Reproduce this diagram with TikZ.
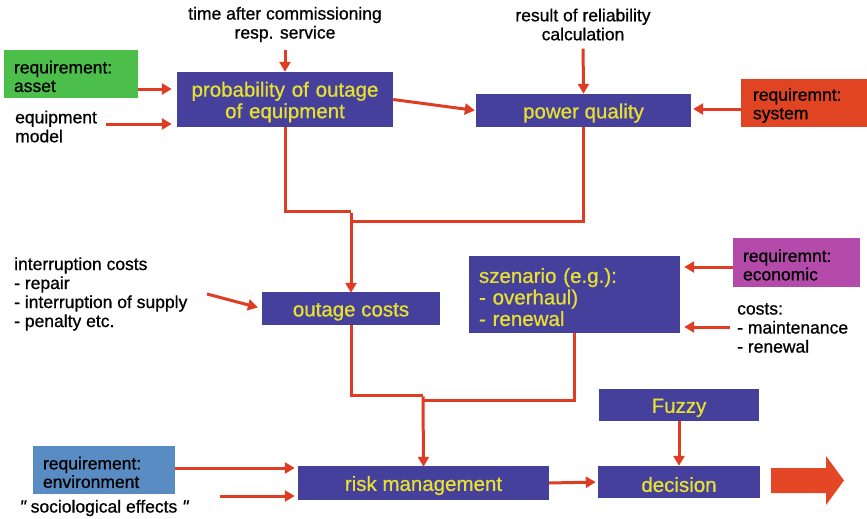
\documentclass[tikz,border=0pt]{standalone}
\usepackage{fontspec}
\setmainfont{Liberation Sans}
\newfontfamily\medium{Liberation Sans}[FakeBold=0.8]
\usetikzlibrary{arrows.meta,calc}

\definecolor{boxblue}{RGB}{68,64,156}
\definecolor{boxtext}{RGB}{232,224,48}
\definecolor{flow}{RGB}{224,60,36}
\definecolor{reqgreen}{RGB}{76,191,74}
\definecolor{reqred}{RGB}{224,68,34}
\definecolor{reqpurple}{RGB}{180,74,170}
\definecolor{reqblue}{RGB}{90,140,196}
\definecolor{bigarrow}{RGB}{227,71,38}

\tikzset{
  stage/.style={fill=boxblue, text=boxtext, inner sep=0pt, align=center,
    font=\medium\fontsize{20.5}{21.5}\selectfont,
    execute at begin node={\rule{0pt}{20pt}}},
  reqbox/.style={inner xsep=10pt, inner ysep=0pt, align=left, text=black,
    font=\medium\fontsize{17.5}{18.5}\selectfont,
    execute at begin node={\rule{0pt}{17.5pt}}},
  label/.style={inner sep=0pt, text=black, font=\medium\fontsize{17.5}{19}\selectfont},
  feed/.style={draw=flow, line width=3pt, -{Triangle[length=10pt,width=11pt]}},
  wire/.style={draw=flow, line width=3pt},
}

\begin{document}
\begin{tikzpicture}[x=1pt,y=-1pt]
\useasboundingbox (0,0) rectangle (867,519);

% main process boxes
\node[stage, minimum width=216pt, minimum height=55pt, text width=210pt] (prob) at (285,99.5)
  {probability of outage\\of equipment};
\node[stage, minimum width=215pt, minimum height=33pt] (pq) at (583.5,110.5)
  {power quality};
\node[stage, minimum width=178pt, minimum height=33pt] (oc) at (351,308.5)
  {outage costs};
\node[stage, minimum width=211pt, minimum height=77pt, align=left,
  text width=191pt, inner xsep=10pt] (szen) at (574.5,294.5)
  {szenario (e.g.):\\- overhaul)\\- renewal};
\node[stage, minimum width=251pt, minimum height=34pt] (risk) at (423.5,483)
  {risk management};
\node[stage, minimum width=160pt, minimum height=32pt] (fuzzy) at (679,405)
  {Fuzzy};
\node[stage, minimum width=162pt, minimum height=32pt] (dec) at (679,482)
  {decision};

% requirement boxes
\node[reqbox, fill=reqgreen, minimum width=134pt, minimum height=48pt,
  text width=114pt] (asset) at (71,74) {requirement:\\asset};
\node[reqbox, fill=reqred, minimum width=124pt, minimum height=48pt,
  text width=104pt, inner xsep=12pt] (sys) at (805,103) {requiremnt:\\system};
\node[reqbox, fill=reqpurple, minimum width=127pt, minimum height=49pt,
  text width=107pt] (econ) at (796.5,262.5) {requiremnt:\\economic};
\node[reqbox, fill=reqblue, minimum width=142pt, minimum height=48pt,
  text width=122pt] (env) at (104,470) {requirement:\\environment};

% plain labels
\node[label, align=center] (time) at (285,24.5) {time after commissioning\\resp. service};
\node[label, align=center] (result) at (583,24.5) {result of reliability\\calculation};
\node[label, align=left, anchor=west] (eqm) at (15,126.5) {equipment\\model};
\node[label, align=left, anchor=west] (icost) at (14,294)
  {interruption costs\\- repair\\- interruption of supply\\- penalty etc.};
\node[label, align=left, anchor=west] (costs) at (737,328) {costs:\\- maintenance\\- renewal};
\node[label] (socio) at (104,508) {{\itshape"} sociological effects {\itshape"}};

% free ends and junctions
\coordinate (icstart) at (207,294);
\coordinate (sostart) at (220,496);
\coordinate (j1) at (351,211);
\coordinate (j2) at (423,395);

% inputs
\draw[feed, shorten <=8pt] (time.south) -- (prob.north);
\draw[feed, shorten <=8pt] (result.south) -- (pq.north);
\draw[feed, shorten >=5pt] (asset.east |- 0,89) -- (prob.west |- 0,89);
\draw[feed, shorten <=9pt, shorten >=5pt] (eqm.east |- 0,124) -- (prob.west |- 0,124);
\draw[feed, shorten >=1pt] (prob.east) -- (pq.west);
\draw[feed, shorten >=2pt] (sys.west |- 0,109) -- (pq.east |- 0,109);
\draw[feed, shorten >=4pt] (icstart) -- (oc.west);
\draw[feed, shorten >=4pt] (econ.west |- 0,267) -- (szen.east |- 0,267);
\draw[feed, shorten <=7pt, shorten >=4pt] (costs.west |- 0,327) -- (szen.east |- 0,327);
\draw[feed, shorten >=3pt] (env.east |- 0,468) -- (risk.west |- 0,468);
\draw[feed, shorten >=3pt] (sostart) -- (risk.west |- sostart);
\draw[feed, shorten >=2pt] (risk.east) -- (dec.west);
\draw[feed] (fuzzy.south) -- (dec.north);

% merging paths
\draw[wire] (prob.south) |- (j1);
\draw[wire] (pq.south) |- (j1 |- 0,221);
\draw[feed, shorten >=-1pt] ([yshift=-1.5pt]j1) -- (oc.north);
\draw[wire] (oc.south) |- (j2);
\draw[wire] (szen.south -| 574,0) |- (j2 |- 0,400);
\draw[feed, shorten >=-1pt] ([yshift=-1.5pt]j2) -- (risk.north);

% outgoing arrow
\fill[bigarrow] (771,468) -- (826,468) -- (826,456) -- (844,480.5)
  -- (826,505) -- (826,493) -- (771,493) -- cycle;
\end{tikzpicture}
\end{document}
